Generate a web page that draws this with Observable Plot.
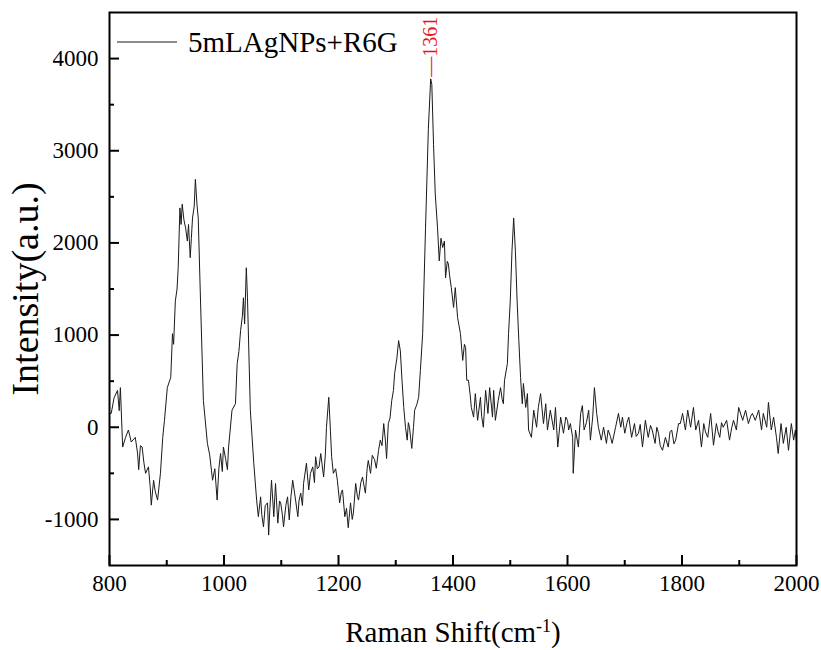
<!DOCTYPE html>
<html><head><meta charset="utf-8">
<script src="https://cdn.jsdelivr.net/npm/d3@7"></script>
<script src="https://cdn.jsdelivr.net/npm/@observablehq/plot@0.6"></script>
<style>body{margin:0;background:#fff}</style>
</head><body><div id="chart"></div>
<script>
const shift = [800,803,808,814,817,819,823,828,833,838,845,849,851,854,857,860,863,868,871,873,877,880,884,889,893,896,901,907,910,912,915,918,920,923,925,927,930,933,936,938,941,943,945,948,950,953,955,959,964,971,975,980,984,988,991,994,997,999,
1003,1006,1008,1014,1020,1023,1026,1029,1032,1034,1036,1039,1041,1046,1052,1057,1060,1064,1066,1069,1072,1076,1078,1080,1083,1087,1090,1094,1097,1099,1102,1104,1108,1111,1114,1117,1120,1125,1129,1131,1134,1137,1139,1144,1148,1151,1155,1158,1160,1163,1166,1169,1174,1177,1179,1183,1186,1188,1191,1195,1198,
1202,1205,1207,1211,1214,1217,1221,1224,1226,1230,1233,1235,1239,1242,1245,1247,1250,1252,1256,1259,1263,1266,1270,1273,1276,1279,1282,1284,1287,1290,1293,1296,1298,1302,1305,1308,1311,1314,1317,1320,1322,1324,1326,1328,1331,1333,1337,1340,1343,1347,1352,1357,1361,1363,1366,1369,1373,1376,1379,1382,1385,1387,1390,1392,1394,1397,
1401,1404,1408,1413,1417,1420,1422,1424,1427,1430,1432,1436,1439,1443,1448,1450,1453,1457,1461,1464,1469,1471,1474,1479,1483,1486,1488,1490,1495,1497,1500,1503,1506,1509,1512,1515,1518,1521,1523,1527,1530,1532,1537,1541,1546,1549,1553,1558,1562,1565,1570,1576,1579,1583,1588,1593,1597,
1600,1602,1605,1609,1610,1614,1619,1623,1626,1629,1633,1637,1640,1644,1647,1651,1654,1659,1663,1668,1671,1675,1678,1684,1689,1693,1696,1700,1704,1707,1712,1717,1720,1724,1727,1731,1736,1741,1745,1748,1753,1756,1759,1762,1766,1771,1776,1779,1782,1786,1789,1794,1797,
1801,1804,1806,1810,1815,1820,1824,1829,1834,1838,1841,1845,1850,1855,1860,1863,1866,1869,1872,1878,1883,1887,1890,1895,1899,1906,1911,1916,1920,1923,1928,1934,1939,1942,1948,1951,1956,1960,1965,1968,1973,1977,1982,1986,1991,1995,1998,2000];
const intensity = [150,150,320,400,180,430,-215,-110,-30,-160,-110,-280,-460,-200,-215,-380,-500,-430,-640,-845,-575,-700,-790,-500,-110,75,430,540,1015,900,1370,1500,1730,2380,2200,2420,2250,2160,2020,2200,1840,2050,2270,2400,2690,2400,2270,1370,290,-175,-300,-575,-450,-790,-450,-285,-480,-215,
-350,-460,-215,185,255,690,820,1050,1200,1405,1120,1730,1405,185,-390,-790,-970,-755,-950,-1080,-850,-820,-1170,-900,-575,-970,-610,-1040,-800,-820,-950,-1080,-850,-755,-1005,-750,-575,-790,-970,-800,-715,-850,-610,-390,-680,-500,-430,-600,-320,-450,-430,-285,-540,-300,0,325,-50,-320,-500,-450,-575,
-820,-700,-680,-970,-880,-1090,-820,-1000,-930,-610,-750,-790,-600,-540,-650,-715,-450,-360,-500,-305,-350,-445,-250,-140,-200,40,-150,-340,40,100,290,400,580,750,940,830,500,215,0,-140,50,0,-120,-230,0,185,250,325,615,1015,2160,3245,3780,3720,3070,2530,2160,1805,2050,1950,2020,1620,1800,1770,1650,1515,
1300,1515,1190,1015,725,900,865,510,510,350,215,110,365,75,325,120,0,400,150,430,110,400,75,290,430,300,255,510,690,1015,1370,1910,2270,1910,1370,940,540,255,475,215,365,-30,-110,185,0,215,365,40,255,-30,185,-30,215,-215,110,-65,110,
75,-30,40,-110,-500,-30,-215,150,235,-30,50,185,-140,110,430,150,0,-140,0,-175,-30,-100,-175,0,150,0,110,-65,50,110,-110,40,-100,-65,30,-215,75,-110,20,-30,-175,0,-65,-200,-250,-110,-215,-50,-30,-180,-140,40,40,
150,40,-30,185,0,215,-30,75,-215,40,-50,-110,150,-195,40,-50,-110,50,0,75,-140,0,75,-30,215,75,185,40,120,150,75,185,-30,150,0,270,-30,110,-110,-285,40,-175,0,-250,40,-140,-30,-150];
const xTicks = [800,1000,1200,1400,1600,1800,2000];
const xMinor = [900,1100,1300,1500,1700,1900];
const yTicks = [-1000,0,1000,2000,3000,4000];
const yMinor = [-500,500,1500,2500,3500];
const seriesName = "5mLAgNPs+R6G";
const peakShift = [1361];
const peakIntensity = [3780];
const peakLabel = ["1361"];
const xTitle = "Raman Shift(cm-1)";
const yTitle = "Intensity(a.u.)";

const data = shift.map((x, i) => ({x, y: intensity[i]}));
const peaks = peakShift.map((x, i) => ({x, y: peakIntensity[i], label: peakLabel[i]}));
const serif = "'Liberation Serif','Times New Roman',serif";
const fmt = d => String(d);

const plot = Plot.plot({
  width: 821, height: 650,
  marginLeft: 109, marginRight: 25, marginTop: 12, marginBottom: 85,
  style: `font-family: ${serif}; font-size: 23px; color: #000; background: #fff; overflow: visible;`,
  x: {domain: [800, 2000]},
  y: {domain: [-1500, 4500]},
  marks: [
    Plot.line(data, {x: "x", y: "y", stroke: "#1a1a1a", strokeWidth: 1}),
    Plot.axisX(xTicks, {tickSize: 0, tickPadding: 9, fontSize: 23, tickFormat: fmt, label: null}),
    Plot.axisX(xTicks, {tickSize: -10, text: null, strokeWidth: 2, label: null}),
    Plot.axisX(xMinor, {tickSize: -5, text: null, strokeWidth: 2, label: null}),
    Plot.axisY(yTicks, {tickSize: 0, tickPadding: 11, fontSize: 23, tickFormat: fmt, label: null}),
    Plot.axisY(yTicks, {tickSize: -10, text: null, strokeWidth: 2, label: null}),
    Plot.axisY(yMinor, {tickSize: -5, text: null, strokeWidth: 2, label: null}),
    Plot.frame({stroke: "#000", strokeWidth: 2}),
    Plot.text(peaks, {x: "x", y: "y", text: d => "\u2014" + d.label, rotate: -90, textAnchor: "start", fill: "#e8141c", fontSize: 20, dy: -2}),
    Plot.text([xTitle], {frameAnchor: "bottom", dy: 67, lineAnchor: "middle", textAnchor: "middle", fontSize: 29}),
    Plot.text([yTitle], {frameAnchor: "left", dx: -84, rotate: -90, textAnchor: "middle", lineAnchor: "middle", fontSize: 38})
  ]
});

const svg = d3.select(plot);
svg.selectAll("text").filter(function() { return this.textContent === xTitle; })
  .each(function() {
    const t = d3.select(this);
    t.text(null);
    t.append("tspan").text("Raman Shift(cm");
    t.append("tspan").attr("baseline-shift", "super").attr("font-size", "18").text("-1");
    t.append("tspan").text(")");
  });
const lg = svg.append("g").attr("text-anchor", "start");
lg.append("line").attr("x1", 117).attr("x2", 177).attr("y1", 42).attr("y2", 42).attr("stroke", "#1a1a1a").attr("stroke-width", 1);
lg.append("text").attr("x", 188).attr("y", 42).attr("dy", "0.35em").attr("font-size", 29).attr("fill", "#000").text(seriesName);
svg.selectAll("text").style("font-family", serif);

document.getElementById("chart").appendChild(plot);
</script>
</body></html>
